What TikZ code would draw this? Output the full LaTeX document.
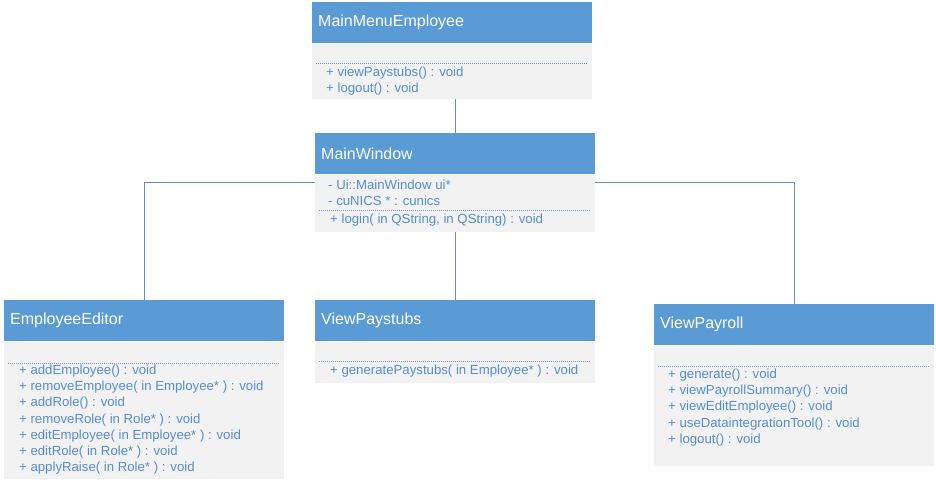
\documentclass[tikz,border=0pt]{standalone}
\usepackage{fontspec}
\setmainfont{Liberation Sans}
\usetikzlibrary{positioning}
\definecolor{headblue}{RGB}{91,155,213}
\definecolor{bodygrey}{RGB}{242,242,242}
\definecolor{memblue}{RGB}{84,142,208}
\definecolor{linkcol}{RGB}{105,140,182}
\definecolor{sepcol}{RGB}{120,145,180}
\tikzset{
  head/.style={anchor=north west, fill=headblue, text=white, minimum width=280pt, minimum height=41pt,
    text width=268pt, align=left, inner xsep=6pt, inner ysep=0pt, font=\fontsize{16}{19}\selectfont},
  body/.style={anchor=north west, fill=bodygrey, minimum width=280pt, inner sep=0pt},
  mem/.style={anchor=north west, text=memblue, align=left, inner sep=0pt, font=\fontsize{13.2}{16.1}\selectfont},
  sep/.style={sepcol, line width=0.8pt, dash pattern=on 1pt off 1pt},
  link/.style={linkcol, line width=1.1pt}
}
\begin{document}
\begin{tikzpicture}[x=1pt,y=-1pt]
\useasboundingbox (0,0) rectangle (936,482);
% MainMenuEmployee
\node[head] (mmeH) at (312,2) {MainMenuEmployee};
\node[body, minimum height=55pt] (mmeB) at (mmeH.south west) {};
\draw[sep] (316,63) -- (588,63);
\node[mem] (mmeM) at (326,67) {+ viewPaystubs() : void\\+ logout() : void};
% MainWindow
\node[head] (mwH) at (315,133) {MainWindow};
\node[body, minimum height=57pt] (mwB) at (mwH.south west) {};
\node[mem] (mwA) at (328,180) {- Ui::MainWindow ui*\\- cuNICS * : cunics};
\draw[sep] (319,210) -- (591,210);
\node[mem] (mwM) at (330,213.5) {+ login( in QString, in QString) : void};
% EmployeeEditor
\node[head] (eeH) at (4,300) {EmployeeEditor};
\node[body, minimum height=137pt] (eeB) at (eeH.south west) {};
\draw[sep] (8,363) -- (280,363);
\node[mem] (eeM) at (19,365) {+ addEmployee() : void\\+ removeEmployee( in Employee* ) : void\\+ addRole() : void\\+ removeRole( in Role* ) : void\\+ editEmployee( in Employee* ) : void\\+ editRole( in Role* ) : void\\+ applyRaise( in Role* ) : void};
% ViewPaystubs
\node[head] (vpsH) at (315,300) {ViewPaystubs};
\node[body, minimum height=41pt] (vpsB) at (vpsH.south west) {};
\draw[sep] (319,361) -- (591,361);
\node[mem] (vpsM) at (330,365) {+ generatePaystubs( in Employee* ) : void};
% ViewPayroll
\node[head] (vprH) at (654,304) {ViewPayroll};
\node[body, minimum height=120pt] (vprB) at (vprH.south west) {};
\draw[sep] (658,366) -- (930,366);
\node[mem] (vprM) at (668,369) {+ generate() : void\\+ viewPayrollSummary() : void\\+ viewEditEmployee() : void\\+ useDataintegrationTool() : void\\+ logout() : void};
% connectors
\draw[link] (mmeB.south -| mwH.north) -- (mwH.north);
\draw[link] ([yshift=-8pt]mwB.north west) -| (eeH.north);
\draw[link] ([yshift=-8pt]mwB.north east) -| (vprH.north);
\draw[link] (mwB.south) -- (vpsH.north);
\end{tikzpicture}
\end{document}
